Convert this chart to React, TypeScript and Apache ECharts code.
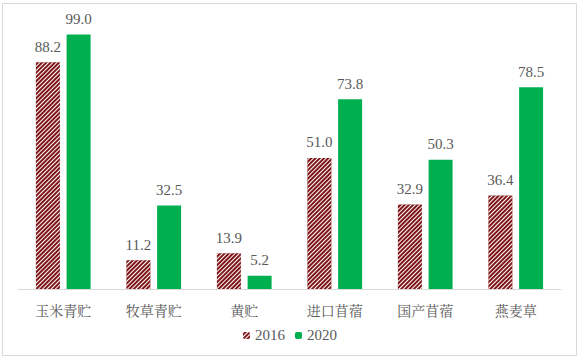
import React, { useEffect, useRef } from "react";
import * as echarts from "echarts";

const categories = ["玉米青贮", "牧草青贮", "黄贮", "进口苜蓿", "国产苜蓿", "燕麦草"];
const series2016 = [88.2, 11.2, 13.9, 51.0, 32.9, 36.4];
const series2020 = [99.0, 32.5, 5.2, 73.8, 50.3, 78.5];
const seriesNames = ["2016", "2020"];

export default function App() {
  const ref = useRef<HTMLDivElement>(null);
  useEffect(() => {
    if (!ref.current) return;
    const chart = echarts.init(ref.current, null, { renderer: "svg" });
    const font = "'Liberation Serif', 'Noto Sans CJK SC', serif";
    const labelStyle = {
      show: true,
      position: "top" as const,
      distance: 8,
      color: "#595959",
      fontSize: 15,
      fontFamily: font,
      formatter: (p: any) => Number(p.value).toFixed(1),
    };
    chart.setOption({
      animation: false,
      backgroundColor: "#fff",
      graphic: [
        {
          type: "rect",
          shape: { x: 2.5, y: 3.5, width: 574, height: 352 },
          style: { fill: "none", stroke: "#d9d9d9", lineWidth: 1 },
          silent: true,
        },
      ],
      grid: { left: 18, right: 19, top: 32, bottom: 71 },
      legend: {
        bottom: 12,
        left: "center",
        itemWidth: 7,
        itemHeight: 7,
        itemGap: 10,
        textStyle: { color: "#595959", fontSize: 15, fontFamily: font },
        data: seriesNames,
      },
      xAxis: {
        type: "category",
        data: categories,
        axisLine: { lineStyle: { color: "#d9d9d9", width: 1 } },
        axisTick: { show: false },
        axisLabel: {
          color: "#595959",
          fontSize: 14,
          margin: 14,
          fontFamily: "'Noto Serif CJK SC', 'Noto Sans CJK SC', serif",
        },
      },
      yAxis: {
        type: "value",
        min: 0,
        max: 100,
        show: false,
        splitLine: { show: false },
      },
      series: [
        {
          name: seriesNames[0],
          type: "bar",
          data: series2016,
          barWidth: "26.5%",
          barGap: "28%",
          itemStyle: {
            color: "#7f1416",
            decal: {
              symbol: "rect",
              symbolSize: 1,
              dashArrayX: [1, 0],
              dashArrayY: [1, 1.2],
              rotation: -Math.PI / 4,
              color: "#ffffff",
            },
          },
          label: labelStyle,
        },
        {
          name: seriesNames[1],
          type: "bar",
          data: series2020,
          barWidth: "26.5%",
          itemStyle: { color: "#00b050" },
          label: labelStyle,
        },
      ],
    });
    return () => chart.dispose();
  }, []);
  return (
    <div
      ref={ref}
      style={{ position: "fixed", left: 0, top: 0, width: 580, height: 360 }}
    />
  );
}
